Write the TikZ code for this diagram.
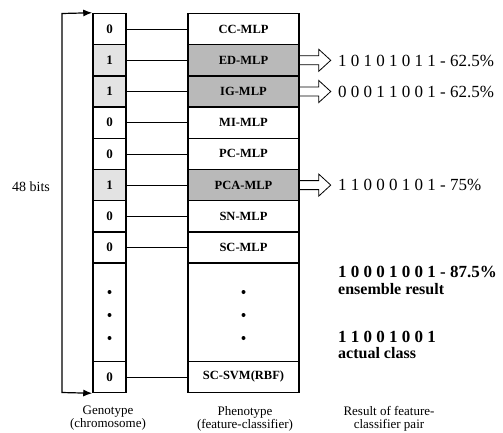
\documentclass[tikz,border=0pt]{standalone}
\usepackage{fontspec}
\setmainfont{Liberation Serif}
\usetikzlibrary{arrows.meta}
\newcommand\fsz[1]{\fontsize{#1}{#1}\selectfont}
\begin{document}
\begin{tikzpicture}[x=1pt,y=-1pt,
  cell/.style={draw, line width=1.5pt, inner sep=0pt, minimum height=31.2pt},
  gcell/.style={cell, minimum width=33pt, font=\bfseries\fsz{13}},
  pcell/.style={cell, minimum width=111pt, font=\bfseries\fsz{12.5}},
  gon/.style={fill=gray!22},
  pon/.style={fill=gray!55},
  link/.style={line width=0.8pt},
  harrow/.style={line width=0.8pt, line join=miter},
  res/.style={anchor=west, inner sep=0pt, font=\fsz{17}},
  resb/.style={anchor=west, inner sep=0pt, font=\bfseries\fsz{17}},
  resl/.style={anchor=west, inner sep=0pt, font=\bfseries\fsz{16}},
  captext/.style={align=center, inner sep=0pt, font=\fsz{13}},
  brace/.style={line width=1.2pt, {Latex[length=9pt,width=7pt]}-{Latex[length=9pt,width=7pt]}},
  dotf/.style={fill=black}
]
\useasboundingbox (0,0) rectangle (503,432);

% genotype column
\node[gcell] (g1) at (109.5,29.1) {0};
\node[gcell,gon] (g2) at (109.5,60.3) {1};
\node[gcell,gon] (g3) at (109.5,91.5) {1};
\node[gcell] (g4) at (109.5,122.7) {0};
\node[gcell] (g5) at (109.5,153.9) {0};
\node[gcell,gon] (g6) at (109.5,185.1) {1};
\node[gcell] (g7) at (109.5,216.3) {0};
\node[gcell] (g8) at (109.5,247.5) {0};
\node[gcell, minimum height=98.2pt] (gd) at (109.5,312.2) {};
\node[gcell] (g9) at (109.5,376.9) {0};

% phenotype column
\node[pcell] (p1) at (243.5,29.1) {CC-MLP};
\node[pcell,pon] (p2) at (243.5,60.3) {ED-MLP};
\node[pcell,pon] (p3) at (243.5,91.5) {IG-MLP};
\node[pcell] (p4) at (243.5,122.7) {MI-MLP};
\node[pcell] (p5) at (243.5,153.9) {PC-MLP};
\node[pcell,pon] (p6) at (243.5,185.1) {PCA-MLP};
\node[pcell] (p7) at (243.5,216.3) {SN-MLP};
\node[pcell] (p8) at (243.5,247.5) {SC-MLP};
\node[pcell, minimum height=98.2pt] (pd) at (243.5,312.2) {};
\node[pcell] (p9) at (243.5,376.9) {SC-SVM(RBF)};

% dots
\foreach \yy in {292,315,338} {
  \fill[dotf] (gd.center |- 0,\yy) circle[radius=2pt];
  \fill[dotf] (pd.center |- 0,\yy) circle[radius=2pt];
}

% connectors
\foreach \i in {1,...,9} { \draw[link] (g\i) -- (p\i); }

% 48 bits bracket
\coordinate (bt) at (62,13.5);
\coordinate (bb) at (62,392.5);
\draw[brace] (g1.north west) -- (bt) -- (bb) -- (g9.south west);
\node[font=\fsz{14}, inner sep=0pt] (bits) at (31,187) {48 bits};

% results
\node[res] (r2) at (338,60.5) {1 0 1 0 1 0 1 1 - 62.5\%};
\node[res] (r3) at (338,92) {0 0 0 1 1 0 0 1 - 62.5\%};
\node[res] (r6) at (338,185) {1 1 0 0 0 1 0 1 - 75\%};
\foreach \i in {2,3,6} {
  \draw[harrow] (p\i.east) ++(0,-4.5) -- ++(19,0) -- ++(0,-6.5) -- ++(12,11) -- ++(-12,11) -- ++(0,-6.5) -- ++(-19,0);
}

\node[resb] (ens) at (338,272) {1 0 0 0 1 0 0 1 - 87.5\%};
\node[resl] (ensl) at (338,289) {ensemble result};
\node[resb] (act) at (338,336.5) {1 1 0 0 1 0 0 1};
\node[resl] (actl) at (338,353.5) {actual class};

% captions
\node[captext] (cg) at (108,418.5) {Genotype\\(chromosome)};
\node[captext] (cp) at (245,418.5) {Phenotype\\(feature-classifier)};
\node[captext] (cr) at (389,418.5) {Result of feature-\\classifier pair};
\end{tikzpicture}
\end{document}
